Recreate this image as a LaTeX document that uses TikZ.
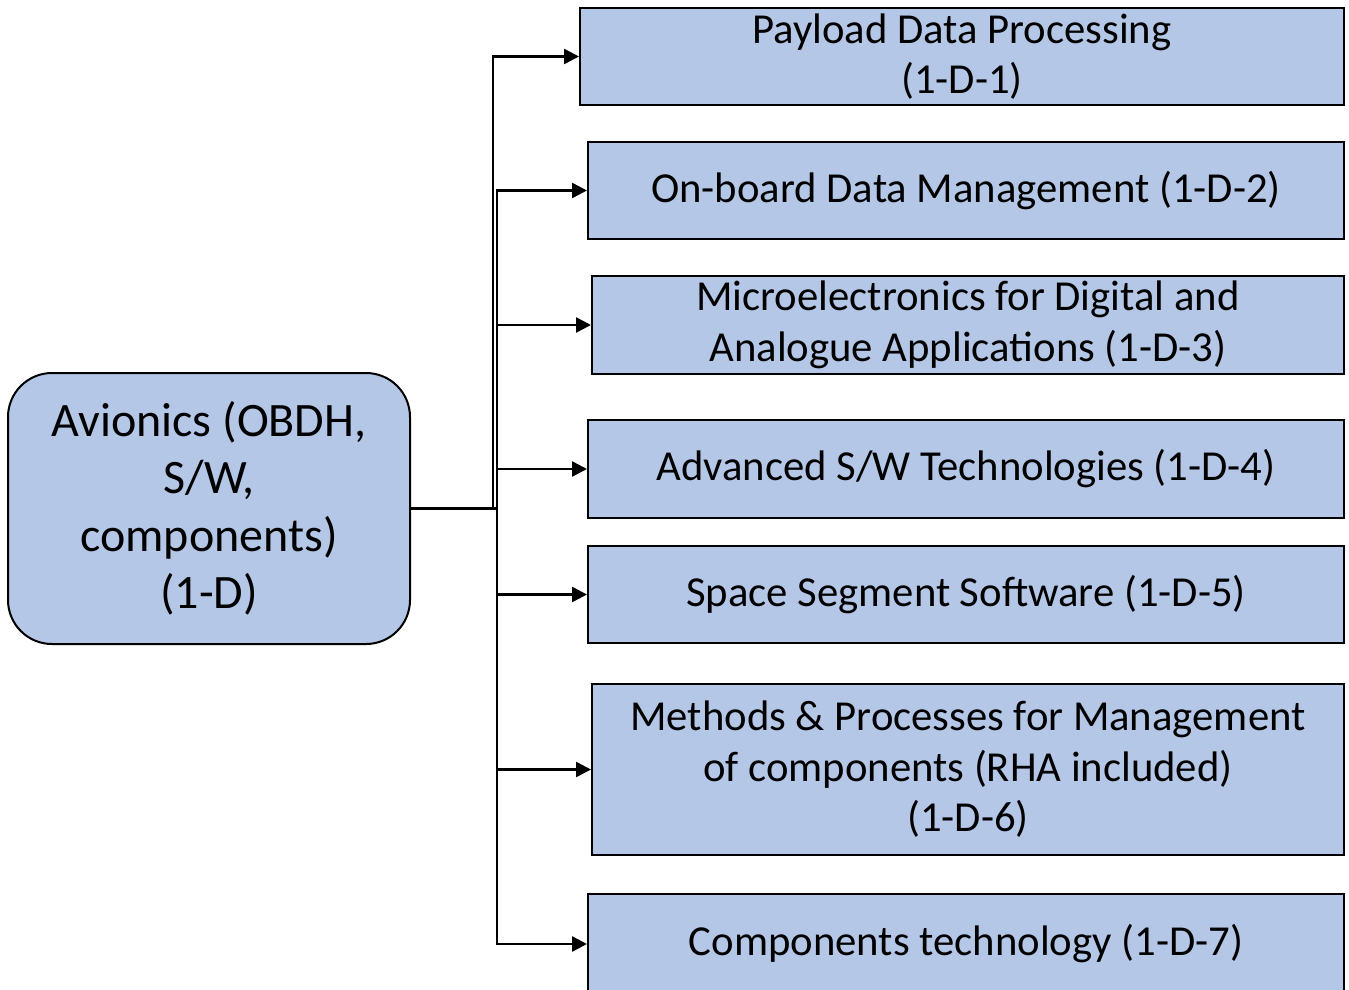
\documentclass[tikz,border=0pt]{standalone}
\usepackage{fontspec}
\setmainfont{Carlito}
\usetikzlibrary{arrows.meta}
\definecolor{boxblue}{HTML}{B4C7E7}
\tikzset{
  box/.style={draw=black, line width=2pt, fill=boxblue, rectangle,
    anchor=north west, align=center, inner sep=0pt,
    font=\fontsize{42.7}{50.5}\selectfont},
  rootbox/.style={draw=black, line width=2pt, fill=boxblue, rectangle,
    rounded corners=44pt, anchor=north west, align=center, inner sep=0pt,
    font=\fontsize{48}{57.5}\selectfont},
  link/.style={line width=2.5pt, -{Triangle[length=15pt,width=15pt]}}
}
\begin{document}
\begin{tikzpicture}[x=1pt,y=-1pt]
\useasboundingbox (0,0) rectangle (1349,990);

\node[rootbox, minimum width=402pt, minimum height=271pt] (root) at (7,372)
  {Avionics (OBDH,\\S/W,\\components)\\(1-D)};

\node[box, minimum width=764pt, minimum height=97pt] (d1) at (579,7)
  {Payload Data Processing\\(1-D-1)};
\node[box, minimum width=756pt, minimum height=97pt] (d2) at (587,141)
  {On-board Data Management (1-D-2)};
\node[box, minimum width=752pt, minimum height=98pt] (d3) at (591,275)
  {Microelectronics for Digital and\\Analogue Applications (1-D-3)};
\node[box, minimum width=756pt, minimum height=98pt] (d4) at (587,419)
  {Advanced S/W Technologies (1-D-4)};
\node[box, minimum width=756pt, minimum height=97pt] (d5) at (587,545)
  {Space Segment Software (1-D-5)};
\node[box, minimum width=752pt, minimum height=171pt] (d6) at (591,683)
  {Methods \& Processes for Management\\of components (RHA included)\\(1-D-6)};
\node[box, minimum width=756pt, minimum height=100pt] (d7) at (587,893)
  {Components technology (1-D-7)};

\coordinate (busA) at (493,0);
\coordinate (busB) at (497,0);

\draw[link] (root.east) -- (root.east -| busA) |- (d1.west);
\foreach \n in {d2,d3,d4,d5,d6,d7}
  \draw[link] (root.east) -- (root.east -| busB) |- (\n.west);
\end{tikzpicture}
\end{document}
